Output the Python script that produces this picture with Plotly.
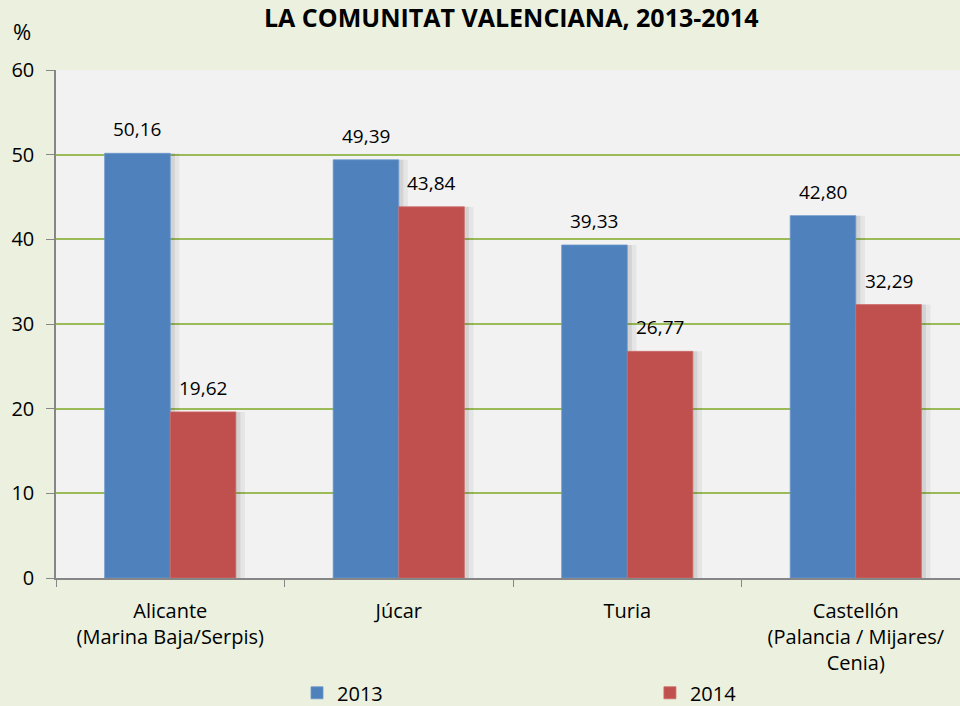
import plotly.graph_objects as go

categories = ["Alicante<br>(Marina Baja/Serpis)", "Júcar", "Turia",
              "Castellón<br>(Palancia / Mijares/<br>Cenia)"]
series_names = ["2013", "2014"]
values_2013 = [50.16, 49.39, 39.33, 42.80]
values_2014 = [19.62, 43.84, 26.77, 32.29]
title_text = "LA COMUNITAT VALENCIANA, 2013-2014"
y_unit = "%"

BLUE = "#4f81bd"
RED = "#c0504d"
FONT = "Open Sans"
W = 0.287

fig = go.Figure()

# shadows (drawn first)
for vals, off in [(values_2013, 0.0), (values_2014, W)]:
    for w, a in [(0.04, 0.05), (0.02, 0.08)]:
        fig.add_trace(go.Bar(x=categories, y=vals, offset=off, width=w,
                             marker=dict(color=f"rgba(0,0,0,{a})", line_width=0),
                             showlegend=False, hoverinfo="skip"))

fig.add_trace(go.Bar(x=categories, y=values_2013, name=series_names[0],
                     offset=-W, width=W, legend="legend",
                     marker=dict(color=BLUE, line=dict(color="#6b97cc", width=0.8))))
fig.add_trace(go.Bar(x=categories, y=values_2014, name=series_names[1],
                     offset=0, width=W, legend="legend2",
                     marker=dict(color=RED, line=dict(color="#cc6a67", width=0.8))))

def fmt(v):
    return f"{v:.2f}".replace(".", ",")

annotations = []
for i, cat in enumerate(categories):
    for vals, dx in [(values_2013, -W / 2), (values_2014, W / 2)]:
        annotations.append(dict(
            x=i + dx, y=vals[i], xref="x", yref="y", text=fmt(vals[i]),
            showarrow=False, yanchor="bottom", yshift=9,
            font=dict(family=FONT, size=19, color="#000")))

annotations.append(dict(x=0.503, y=1.104, xref="paper", yref="paper",
                        text=f"<b>{title_text}</b>", showarrow=False,
                        xanchor="center", yanchor="middle",
                        font=dict(family=FONT, size=25, color="#000")))
annotations.append(dict(x=-0.0376, y=1.077, xref="paper", yref="paper",
                        text=y_unit, showarrow=False,
                        xanchor="center", yanchor="middle",
                        font=dict(family=FONT, size=22, color="#000")))

legend_common = dict(orientation="h", y=-0.226, xanchor="left",
                     yanchor="middle",
                     font=dict(family=FONT, size=20, color="#000"),
                     bgcolor="rgba(0,0,0,0)")

fig.update_layout(
    width=960, height=706, autosize=False,
    margin=dict(l=56, r=0, t=70, b=128, autoexpand=False),
    paper_bgcolor="#ebf1de", plot_bgcolor="#f2f2f2",
    barmode="overlay",
    font=dict(family=FONT, color="#000"),
    annotations=annotations,
    showlegend=True,
    legend=dict(x=0.2666, **legend_common),
    legend2=dict(x=0.657, **legend_common),
    xaxis=dict(type="category", tickson="boundaries", ticks="outside",
               ticklen=7, tickcolor="#868686", showline=True,
               linecolor="#868686", linewidth=1.5, range=[-0.5, 3.456],
               tickfont=dict(family=FONT, size=20, color="#000"),
               ticklabelstandoff=14, showgrid=False),
    yaxis=dict(range=[0, 60], dtick=10, ticks="outside", ticklen=8,
               tickcolor="#868686", showline=True, linecolor="#868686",
               linewidth=1.5, gridcolor="#9bbb59", gridwidth=1.5,
               zeroline=False,
               tickfont=dict(family=FONT, size=20, color="#000"),
               ticklabelstandoff=8),
)

fig.write_html(
    "out.html",
    config={"displayModeBar": False},
    post_script="document.body.style.margin='0';"
                "document.body.style.overflow='hidden';",
)
